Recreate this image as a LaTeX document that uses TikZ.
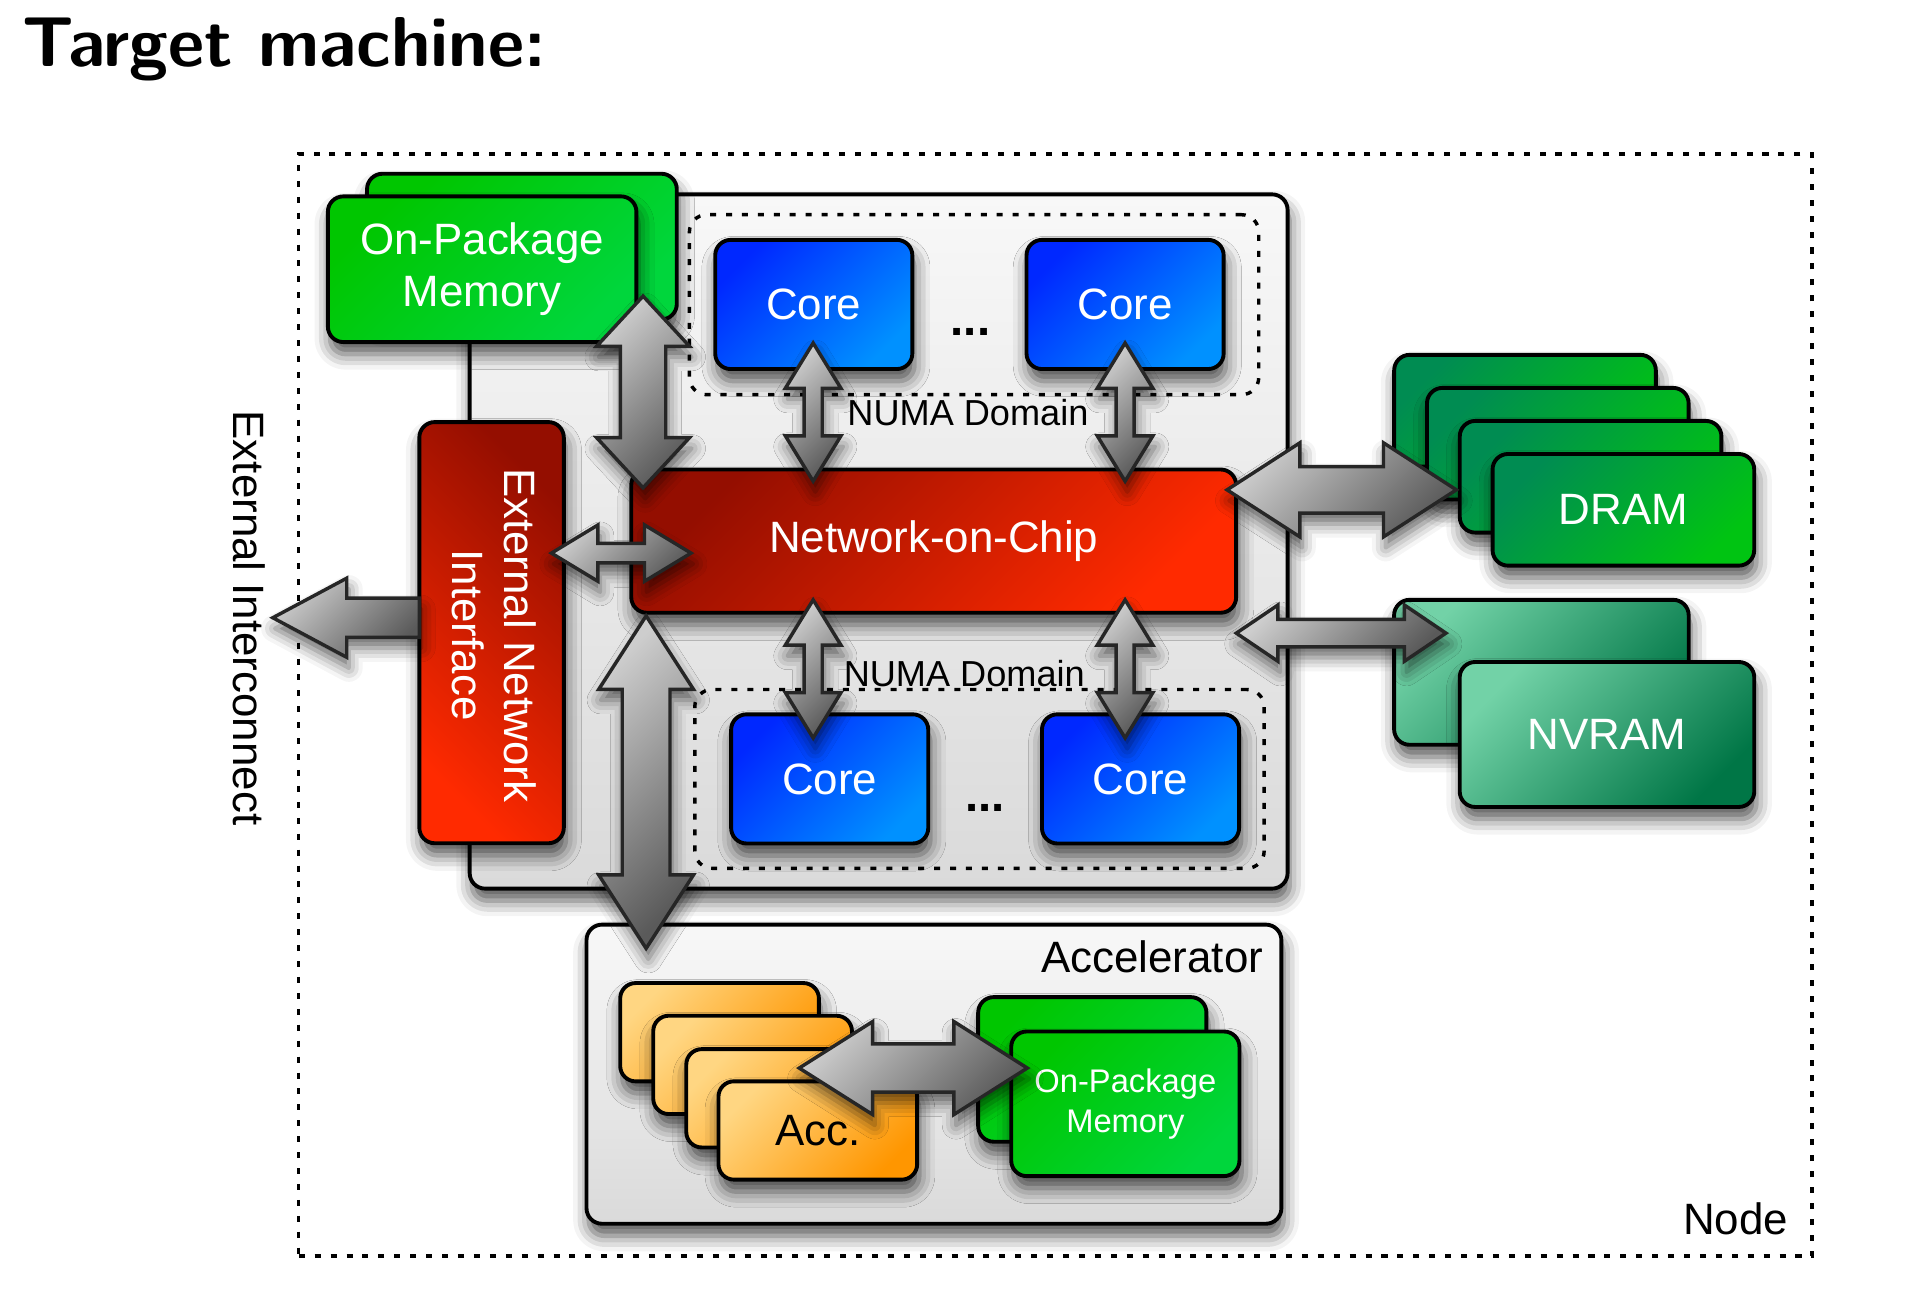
\documentclass[tikz,border=0pt]{standalone}
\usepackage{fontspec}
\setmainfont{Liberation Sans}
\usetikzlibrary{calc,shadows,shadows.blur}

\newcommand\pxu{0.2845276pt}

\definecolor{memA}{RGB}{0,198,0}
\definecolor{memB}{RGB}{0,214,60}
\definecolor{coreA}{RGB}{0,40,255}
\definecolor{coreB}{RGB}{0,145,255}
\definecolor{nocA}{RGB}{148,14,0}
\definecolor{nocB}{RGB}{255,42,0}
\definecolor{dramA}{RGB}{0,140,82}
\definecolor{dramB}{RGB}{0,196,18}
\definecolor{nvA}{RGB}{114,210,167}
\definecolor{nvB}{RGB}{0,118,70}
\definecolor{accA}{RGB}{255,214,130}
\definecolor{accB}{RGB}{255,150,0}
\definecolor{grayA}{RGB}{248,248,248}
\definecolor{grayB}{RGB}{218,218,218}
\definecolor{arrA}{RGB}{205,205,205}
\definecolor{arrB}{RGB}{90,90,90}

\tikzset{
  box/.style={draw=black, line width=0.9pt, rounded corners=3.6pt, inner sep=0pt,
    blur shadow={shadow xshift=0.5pt, shadow yshift=-2.8pt, shadow blur radius=3.6pt, shadow opacity=68}},
  gbox/.style 2 args={box, top color=#1, bottom color=#2, shading angle=45},
  graybox/.style={box, top color=grayA, bottom color=grayB},
  membox/.style={gbox={memA}{memB}, text=white, align=center},
  corebox/.style={gbox={coreA}{coreB}, text=white, minimum width=1.61cm, minimum height=1.055cm},
  drambox/.style={gbox={dramA}{dramB}, text=white, minimum width=2.137cm, minimum height=0.912cm},
  nvbox/.style={gbox={nvA}{nvB}, text=white, minimum width=2.406cm, minimum height=1.184cm},
  accbox/.style={gbox={accA}{accB}, text=black, minimum width=1.623cm, minimum height=0.803cm},
  accmembox/.style={gbox={memA}{memB}, text=white, align=center, minimum width=1.864cm, minimum height=1.181cm,
    font=\fontsize{7.6}{9.4}\selectfont},
  numabox/.style={draw=black, line width=0.8pt, dash pattern=on 1.4pt off 2.3pt, rounded corners=4pt, inner sep=0pt},
  nodeline/.style={draw=black, line width=0.8pt, dash pattern=on 1.4pt off 2.3pt, inner sep=0pt},
  blockarrow/.style={draw=black!85, line width=0.8pt, line join=miter, top color=arrA, bottom color=arrB, shading angle=45,
    blur shadow={shadow xshift=0.5pt, shadow yshift=-2.5pt, shadow blur radius=3.2pt, shadow opacity=60}},
  numalbl/.style={anchor=base, font=\fontsize{8.4}{10}\selectfont},
  dotslbl/.style={anchor=base, inner sep=0pt, font=\bfseries\fontsize{11}{13}\selectfont},
}

% vertical double arrow: top, bottom, shaft half width, head half width, head length (px)
\newcommand\vdarrow[5]{%
  \draw[blockarrow] let \p1=(#1), \p2=(#2) in
   (\x1,\y1) -- ({\x1+#4*\pxu},{\y1-#5*\pxu}) -- ({\x1+#3*\pxu},{\y1-#5*\pxu})
   -- ({\x1+#3*\pxu},{\y2+#5*\pxu}) -- ({\x1+#4*\pxu},{\y2+#5*\pxu}) -- (\x1,\y2)
   -- ({\x1-#4*\pxu},{\y2+#5*\pxu}) -- ({\x1-#3*\pxu},{\y2+#5*\pxu})
   -- ({\x1-#3*\pxu},{\y1-#5*\pxu}) -- ({\x1-#4*\pxu},{\y1-#5*\pxu}) -- cycle;}
% horizontal double arrow: left, right, ...
\newcommand\hdarrow[5]{%
  \draw[blockarrow] let \p1=(#1), \p2=(#2) in
   (\x1,\y1) -- ({\x1+#5*\pxu},{\y1+#4*\pxu}) -- ({\x1+#5*\pxu},{\y1+#3*\pxu})
   -- ({\x2-#5*\pxu},{\y1+#3*\pxu}) -- ({\x2-#5*\pxu},{\y1+#4*\pxu}) -- (\x2,\y1)
   -- ({\x2-#5*\pxu},{\y1-#4*\pxu}) -- ({\x2-#5*\pxu},{\y1-#3*\pxu})
   -- ({\x1+#5*\pxu},{\y1-#3*\pxu}) -- ({\x1+#5*\pxu},{\y1-#4*\pxu}) -- cycle;}
% horizontal single arrow pointing left: tail (right), tip (left)
\newcommand\hlarrow[5]{%
  \draw[blockarrow] let \p1=(#1), \p2=(#2) in
   (\x1,{\y1+#3*\pxu}) -- ({\x2+#5*\pxu},{\y1+#3*\pxu}) -- ({\x2+#5*\pxu},{\y1+#4*\pxu})
   -- (\x2,\y1) -- ({\x2+#5*\pxu},{\y1-#4*\pxu}) -- ({\x2+#5*\pxu},{\y1-#3*\pxu})
   -- (\x1,{\y1-#3*\pxu}) -- cycle;}

\begin{document}
\begin{tikzpicture}[x=0.01cm,y=-0.01cm,font=\fontsize{10.2}{12.2}\selectfont]
\useasboundingbox (0,0) rectangle (1560,1068.9);

% title
\node[anchor=base west, inner sep=0pt, font=\sffamily\bfseries\fontsize{16.4}{20}\selectfont] (title) at (18,54) {Target machine:};

% node frame
\node[nodeline, minimum width=12.36cm, minimum height=9.0cm] (nodebox) at (862.5,576) {};
\node[anchor=base east, inner sep=0pt] (nodelbl) at (1462,1009) {Node};

% chip
\node[graybox, minimum width=6.68cm, minimum height=5.67cm] (chip) at (718,442.5) {};

% on-package memory
\node[membox, minimum width=2.53cm, minimum height=1.19cm] (memb) at (426.5,201.5) {};
\node[membox, minimum width=2.52cm, minimum height=1.19cm] (mem) at (394,220) {On-Package\\Memory};

% NUMA domains
\node[numabox, minimum width=4.65cm, minimum height=1.47cm] (numa1) at (796,249) {};
\node[numabox, minimum width=4.65cm, minimum height=1.46cm] (numa2) at (800.4,636.5) {};
\node[corebox] (c1) at (665,248.8) {Core};
\node[corebox] (c2) at (919.4,248.8) {Core};
\node[corebox] (c3) at (678,636.5) {Core};
\node[corebox] (c4) at (932,636.5) {Core};
\node[dotslbl] (dots1) at (793,274) {...};
\node[dotslbl] (dots2) at (805,663) {...};
\node[numalbl] (nl1) at (791,348) {NUMA Domain};
\node[numalbl] (nl2) at (788,561) {NUMA Domain};

% network on chip
\node[gbox={nocA}{nocB}, text=white, minimum width=4.94cm, minimum height=1.17cm] (noc) at (763,442.2) {Network-on-Chip};

% external network interface
\node[box, top color=nocA, bottom color=nocB, shading angle=-45, minimum width=1.18cm, minimum height=3.44cm] (eni) at (401.7,517) {};
\node[rotate=-90, text=white, align=center, inner sep=0pt] (enitxt) at (404,519) {External Network\\Interface};
\node[rotate=-90, inner sep=0pt] (extlbl) at (204,505) {External Interconnect};

% DRAM
\node[drambox] (d1) at (1246.2,335.6) {};
\node[drambox] (d2) at (1273,362.6) {};
\node[drambox] (d3) at (1299.8,389.6) {};
\node[drambox] (d4) at (1326.6,416.6) {DRAM};

% NVRAM
\node[nvbox] (n1) at (1259.6,549.4) {};
\node[nvbox] (n2) at (1313.2,600.2) {NVRAM};

% accelerator
\node[graybox, minimum width=5.675cm, minimum height=2.443cm] (accel) at (763.2,877.8) {};
\node[anchor=base east, inner sep=0pt] (accellbl) at (1033,795) {Accelerator};
\node[accbox] (a1) at (588,843.5) {};
\node[accbox] (a2) at (615,870.2) {};
\node[accbox] (a3) at (642,897.5) {};
\node[accbox] (a4) at (668.3,923.8) {Acc.};
\node[accmembox] (am1) at (892.6,873.9) {};
\node[accmembox] (am2) at (919.6,902) {On-Package\\Memory};

% arrow end points
\coordinate (p1t) at (525.5,242);   \coordinate (p1b) at (525.5,398.6);
\coordinate (p2t) at (664.5,280.3); \coordinate (p2b) at (664.5,393.2);
\coordinate (p3t) at (919.4,280.3); \coordinate (p3b) at (919.4,393.2);
\coordinate (p4t) at (664.5,490.2); \coordinate (p4b) at (664.5,603);
\coordinate (p5t) at (919.4,490.2); \coordinate (p5b) at (919.4,603);
\coordinate (p6l) at (450.6,452);   \coordinate (p6r) at (564.7,452);
\coordinate (p7s) at (342.7,504.8); \coordinate (p7e) at (222.9,504.8);
\coordinate (p8l) at (1002.7,400.3); \coordinate (p8r) at (1190.1,400.3);
\coordinate (p9l) at (1010.3,517.4); \coordinate (p9r) at (1181.6,517.4);
\coordinate (p10t) at (528,503.3);  \coordinate (p10b) at (528,775);
\coordinate (p11l) at (653.1,872.8); \coordinate (p11r) at (839.5,872.8);

\vdarrow{p1t}{p1b}{18.5}{38}{41}
\vdarrow{p2t}{p2b}{7.4}{22.7}{37}
\vdarrow{p3t}{p3b}{7.4}{22.7}{37}
\vdarrow{p4t}{p4b}{7.4}{22.7}{37}
\vdarrow{p5t}{p5b}{7.4}{22.7}{37}
\hdarrow{p6l}{p6r}{7.9}{23}{38}
\hlarrow{p7s}{p7e}{16}{32.3}{60.4}
\hdarrow{p8l}{p8r}{19}{38.4}{59.5}
\hdarrow{p9l}{p9r}{11.2}{23}{34}
\vdarrow{p10t}{p10b}{19.5}{38.7}{60}
\hdarrow{p11l}{p11r}{19.7}{38}{60}
\end{tikzpicture}
\end{document}
